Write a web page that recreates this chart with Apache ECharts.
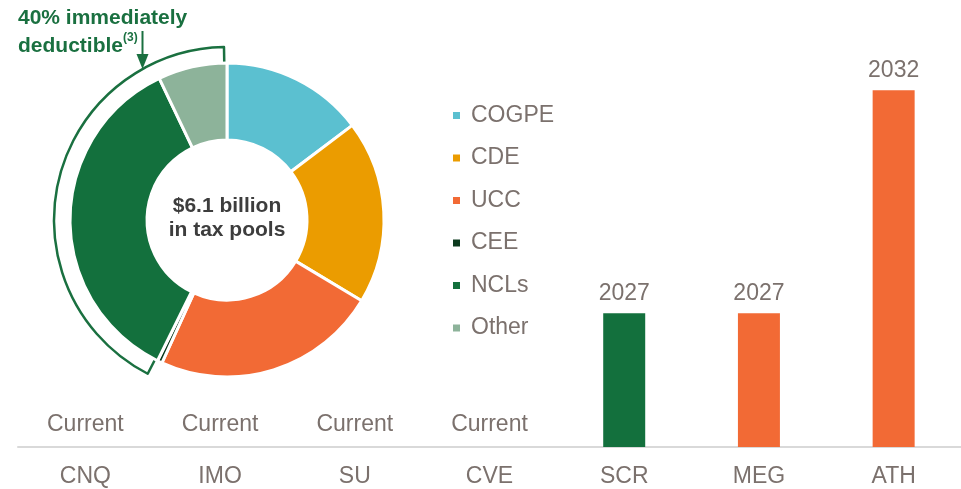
<!DOCTYPE html>
<html>
<head>
<meta charset="utf-8">
<title>Tax pools</title>
<script src="https://cdn.jsdelivr.net/npm/echarts@6/dist/echarts.min.js"></script>
<style>
    html, body { margin: 0; padding: 0; background: #fff; }
    #chart { width: 961px; height: 489px; }
</style>
</head>
<body>
<div id="chart"></div>
<script>
// companies on the x axis
const companies = ['CNQ', 'IMO', 'SU', 'CVE', 'SCR', 'MEG', 'ATH'];
// when each company becomes cash taxable ('Current' = already)
const taxableFrom = ['Current', 'Current', 'Current', 'Current', 2027, 2027, 2032];
const barColors = ['#13703d', '#13703d', '#13703d', '#13703d', '#13703d', '#f26a35', '#f26a35'];

// tax pool split (% of $6.1 billion)
const poolNames = ['COGPE', 'CDE', 'UCC', 'CEE', 'NCLs', 'Other'];
const poolShares = [14.7, 18.9, 23.2, 0.5, 35.6, 7.1];
const poolColors = ['#5bc0d0', '#eb9c00', '#f26a35', '#0c3a1e', '#13703d', '#8db39a'];
const deductible = ['NCLs', 'Other'];

const yMin = 2024;
const yMax = 2034;

const font = '"Liberation Sans", Arial, sans-serif';
const grey = '#7b716d';
const green = '#1a7040';

const chart = echarts.init(document.getElementById('chart'));

// bar data: 'Current' rows sit on the axis and only show the label
const barData = taxableFrom.map((v, i) => {
    const isYear = typeof v === 'number';
    return {
        value: isYear ? v : yMin,
        itemStyle: { color: barColors[i] },
        label: {
            formatter: String(v),
            fontSize: 23,
            distance: isYear ? 8 : 11
        }
    };
});

// outline ring around the immediately deductible part
const deductibleShare = poolShares.filter((_, i) => deductible.includes(poolNames[i])).reduce((a, b) => a + b, 0);
const restShare = poolShares.reduce((a, b) => a + b, 0) - deductibleShare;

const option = {
    animation: false,
    textStyle: { fontFamily: font },
    grid: { left: 18, right: 0, top: 1, bottom: 42 },
    xAxis: {
        type: 'category',
        data: companies,
        axisLine: { lineStyle: { color: '#d9d9d9', width: 2 } },
        axisTick: { show: false },
        axisLabel: { color: grey, fontSize: 23, margin: 18, fontFamily: font }
    },
    yAxis: {
        type: 'value',
        min: yMin,
        max: yMax,
        show: false,
        splitLine: { show: false }
    },
    legend: {
        orient: 'vertical',
        left: 451,
        top: 104,
        padding: 0,
        itemWidth: 9,
        itemHeight: 9,
        itemGap: 19.5,
        icon: 'rect',
        selectedMode: false,
        data: poolNames,
        textStyle: { color: grey, fontSize: 23, fontFamily: font, padding: [0, 0, 0, 5] }
    },
    series: [
        {
            type: 'bar',
            data: barData,
            barWidth: 42,
            silent: true,
            label: { show: true, position: 'top', color: grey, fontFamily: font }
        },
        {
            type: 'pie',
            center: [227, 220],
            radius: [155, 173],
            startAngle: 90,
            padAngle: 2,
            silent: true,
            z: 1,
            label: { show: false },
            labelLine: { show: false },
            data: [
                { value: restShare, name: 'rest', itemStyle: { color: 'none', borderWidth: 0 } },
                { value: deductibleShare, name: 'outline', itemStyle: { color: '#fff', borderColor: green, borderWidth: 2.5 } }
            ]
        },
        {
            type: 'pie',
            center: [227, 220],
            radius: [80, 157],
            startAngle: 90,
            silent: true,
            z: 3,
            label: { show: false },
            labelLine: { show: false },
            itemStyle: { borderColor: '#fff', borderWidth: 3 },
            data: poolNames.map((n, i) => ({ name: n, value: poolShares[i], itemStyle: { color: poolColors[i] } }))
        }
    ],
    graphic: [
        {
            type: 'text',
            x: 227,
            y: 218,
            z: 10,
            style: {
                text: '$6.1 billion\nin tax pools',
                align: 'center',
                verticalAlign: 'middle',
                font: 'bold 21px ' + font,
                lineHeight: 24,
                fill: '#3d3d3d'
            }
        },
        {
            type: 'text',
            x: 18,
            y: 4,
            z: 10,
            style: {
                text: '40% immediately\ndeductible{sup|(3)}',
                font: 'bold 21px ' + font,
                lineHeight: 28,
                fill: green,
                rich: {
                    sup: { font: 'bold 12px ' + font, fill: green, verticalAlign: 'top', lineHeight: 28, padding: [0, 0, 10, 0] }
                }
            }
        },
        {
            type: 'line',
            z: 10,
            shape: { x1: 142.5, y1: 31, x2: 142.5, y2: 56 },
            style: { stroke: green, lineWidth: 2 }
        },
        {
            type: 'polygon',
            z: 10,
            shape: { points: [[136.5, 54], [148.5, 54], [142.5, 69]] },
            style: { fill: green }
        }
    ]
};

chart.setOption(option);
</script>
</body>
</html>
